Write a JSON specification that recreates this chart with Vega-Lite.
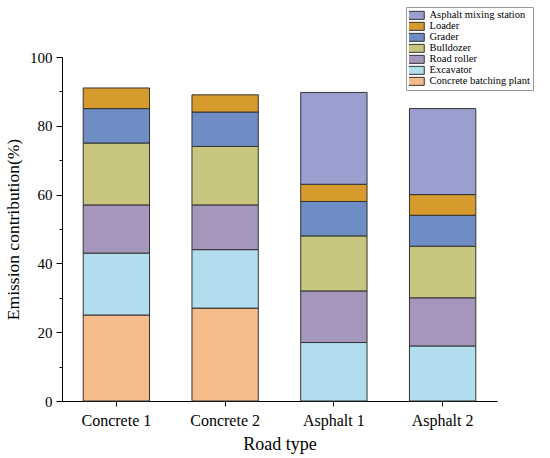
{
  "$schema": "https://vega.github.io/schema/vega-lite/v6.json",
  "autosize": "none",
  "padding": {"left": 62, "top": 57, "right": 53, "bottom": 57},
  "width": 435,
  "height": 344,
  "background": "white",
  "data": {
    "values": [
      {"road": "Concrete 1", "source": "Concrete batching plant", "value": 25},
      {"road": "Concrete 1", "source": "Excavator", "value": 18},
      {"road": "Concrete 1", "source": "Road roller", "value": 14},
      {"road": "Concrete 1", "source": "Bulldozer", "value": 18},
      {"road": "Concrete 1", "source": "Grader", "value": 10},
      {"road": "Concrete 1", "source": "Loader", "value": 6},
      {"road": "Concrete 2", "source": "Concrete batching plant", "value": 27},
      {"road": "Concrete 2", "source": "Excavator", "value": 17},
      {"road": "Concrete 2", "source": "Road roller", "value": 13},
      {"road": "Concrete 2", "source": "Bulldozer", "value": 17},
      {"road": "Concrete 2", "source": "Grader", "value": 10},
      {"road": "Concrete 2", "source": "Loader", "value": 5},
      {"road": "Asphalt 1", "source": "Excavator", "value": 17},
      {"road": "Asphalt 1", "source": "Road roller", "value": 15},
      {"road": "Asphalt 1", "source": "Bulldozer", "value": 16},
      {"road": "Asphalt 1", "source": "Grader", "value": 10},
      {"road": "Asphalt 1", "source": "Loader", "value": 5},
      {"road": "Asphalt 1", "source": "Asphalt mixing station", "value": 26.7},
      {"road": "Asphalt 2", "source": "Excavator", "value": 16},
      {"road": "Asphalt 2", "source": "Road roller", "value": 14},
      {"road": "Asphalt 2", "source": "Bulldozer", "value": 15},
      {"road": "Asphalt 2", "source": "Grader", "value": 9},
      {"road": "Asphalt 2", "source": "Loader", "value": 6},
      {"road": "Asphalt 2", "source": "Asphalt mixing station", "value": 25}
    ]
  },
  "transform": [
    {"calculate": "indexof(['Concrete batching plant','Excavator','Road roller','Bulldozer','Grader','Loader','Asphalt mixing station'], datum.source)", "as": "k"}
  ],
  "mark": {"type": "bar", "stroke": "#333333", "strokeWidth": 1},
  "encoding": {
    "x": {
      "field": "road",
      "type": "nominal",
      "sort": ["Concrete 1", "Concrete 2", "Asphalt 1", "Asphalt 2"],
      "scale": {"paddingInner": 0.39, "paddingOuter": 0.195},
      "axis": {
        "title": "Road type",
        "labelAngle": 0,
        "labelFontSize": 16,
        "titleFontSize": 18,
        "titleFontWeight": "normal",
        "tickSize": 5,
        "labelPadding": 6,
        "titlePadding": 7,
        "domainColor": "black",
        "tickColor": "black",
        "labelColor": "black",
        "titleColor": "black"
      }
    },
    "y": {
      "field": "value",
      "type": "quantitative",
      "aggregate": "sum",
      "stack": "zero",
      "scale": {"domain": [0, 100]},
      "axis": {
        "title": "Emission contribution(%)",
        "values": [0, 10, 20, 30, 40, 50, 60, 70, 80, 90, 100],
        "labelExpr": "datum.value % 20 === 0 ? datum.label : ''",
        "tickSize": {"condition": {"test": "datum.value % 20 === 0", "value": 6}, "value": 3},
        "grid": false,
        "labelFontSize": 15,
        "titleFontSize": 17.5,
        "titleFontWeight": "normal",
        "labelPadding": 4,
        "titlePadding": 7,
        "domainColor": "black",
        "tickColor": "black",
        "labelColor": "black",
        "titleColor": "black"
      }
    },
    "color": {
      "field": "source",
      "type": "nominal",
      "scale": {
        "domain": ["Asphalt mixing station", "Loader", "Grader", "Bulldozer", "Road roller", "Excavator", "Concrete batching plant"],
        "range": ["#9B9FD0", "#D69B2C", "#6D8DC4", "#C7C57E", "#A696BC", "#B2DDEF", "#F3BC8A"]
      },
      "legend": {
        "title": null,
        "orient": "none",
        "legendX": 344,
        "legendY": -50,
        "symbolType": "M-2.5,-1L2.5,-1L2.5,1L-2.5,1Z",
        "symbolSize": 64,
        "symbolStrokeColor": "#333333",
        "symbolStrokeWidth": 1,
        "labelFont": "Liberation Serif",
        "labelFontSize": 10.5,
        "labelColor": "black",
        "labelOffset": 10,
        "rowPadding": 0,
        "clipHeight": 10.7,
        "padding": 3,
        "fillColor": "white",
        "strokeColor": "#999999",
        "symbolOpacity": 1
      }
    },
    "order": {"field": "k", "type": "quantitative", "sort": "ascending"}
  },
  "config": {
    "view": {"stroke": null},
    "font": "Liberation Serif",
    "axis": {"grid": false}
  }
}
